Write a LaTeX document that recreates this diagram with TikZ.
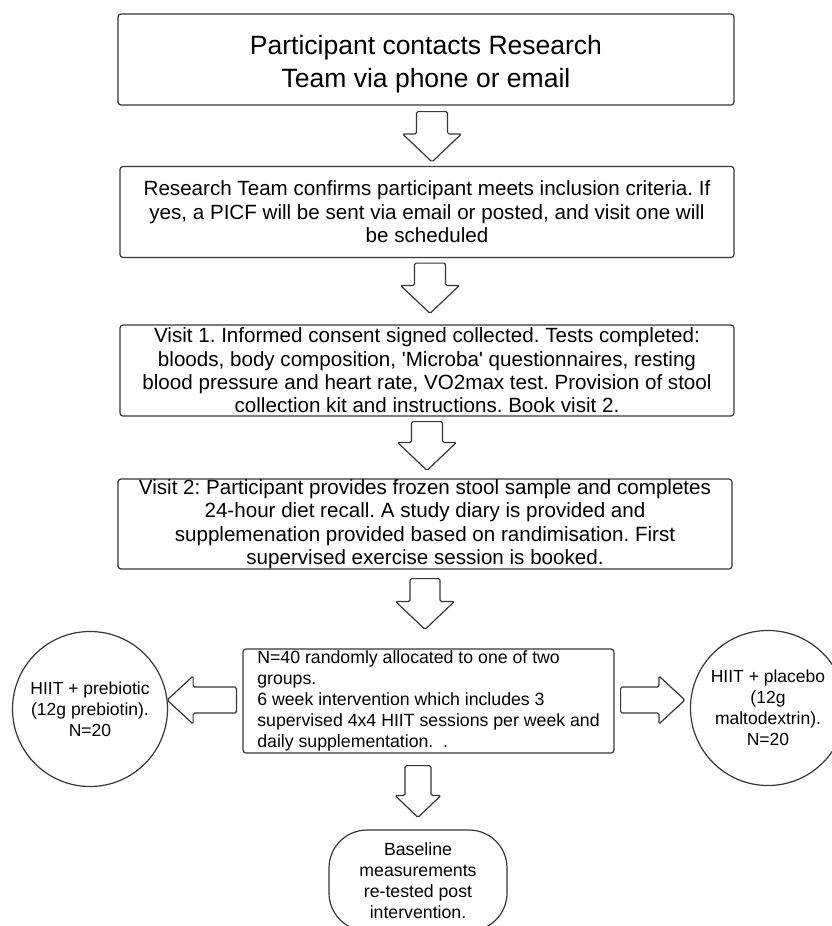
\documentclass[tikz,border=0pt]{standalone}
\usepackage{fontspec}
\setmainfont{Liberation Sans}
\usetikzlibrary{calc}
\definecolor{linegray}{RGB}{55,55,55}
\tikzstyle{stepbox}=[draw=linegray, line width=1.2pt, rounded corners=3pt, minimum width=614pt, minimum height=91pt, inner sep=0pt, align=center, font=\fontsize{20.6}{23.4}\selectfont]
\tikzstyle{groupcirc}=[circle, draw=linegray, line width=1.2pt, minimum size=155pt, inner sep=0pt, align=center, font=\fontsize{17.5}{21}\selectfont]
\tikzstyle{endbox}=[draw=linegray, line width=1.2pt, rounded corners=38pt, minimum width=178pt, minimum height=101pt, inner sep=0pt, align=center, font=\fontsize{17.7}{21}\selectfont]
\tikzstyle{blockarr}=[draw=linegray, line width=1.2pt, rounded corners=1.5pt, fill=white]
% down block arrow: #1 tail point, #2 tip point, #3 half stem, #4 half head, #5 head length
\newcommand{\downblock}[5]{%
  \draw[blockarr] let \p1=#1, \p2=#2 in
    (\x2-#3,\y1) -- (\x2-#3,\y2+#5) -- (\x2-#4,\y2+#5) -- (\x2,\y2)
    -- (\x2+#4,\y2+#5) -- (\x2+#3,\y2+#5) -- (\x2+#3,\y1) -- cycle;}
% side block arrow, same arguments
\newcommand{\sideblock}[5]{%
  \draw[blockarr] let \p1=#1, \p2=#2, \n1={sign(\x1-\x2)} in
    (\x1,\y2-#3) -- (\x2+\n1*#5,\y2-#3) -- (\x2+\n1*#5,\y2-#4) -- (\x2,\y2)
    -- (\x2+\n1*#5,\y2+#4) -- (\x2+\n1*#5,\y2+#3) -- (\x1,\y2+#3) -- cycle;}
\begin{document}
\frenchspacing
\begin{tikzpicture}[x=1pt, y=-1pt]
    \useasboundingbox (0,0) rectangle (832,926);
    \node[stepbox, minimum width=616pt, font=\fontsize{26.5}{33}\selectfont] (contact) at (426,59.5)
        {\raisebox{0pt}[29pt][0pt]{Participant contacts Research}\\Team via phone or email};
    \node[stepbox] (screen) at (427,212)
        {Research Team confirms participant meets inclusion criteria. If\\yes, a PICF will be sent via email or posted, and visit one will\\be scheduled};
    \node[stepbox] (visit1) at (427,370.5)
        {Visit 1. Informed consent signed collected. Tests completed:\\bloods, body composition, \textquotesingle Microba\textquotesingle\ questionnaires, resting\\blood pressure and heart rate, VO2max test. Provision of stool\\collection kit and instructions. Book visit 2.};
    \node[stepbox, minimum height=90pt] (visit2) at (425,524)
        {Visit 2: Participant provides frozen stool sample and completes\\24-hour diet recall. A study diary is provided and\\supplemenation provided based on randimisation. First\\supervised exercise session is booked.};
    \node[stepbox, minimum width=371pt, minimum height=104pt, align=left, font=\fontsize{17.7}{20.8}\selectfont] (alloc) at (428.5,701)
        {N=40 randomly allocated to one of two\\groups.\\6 week intervention which includes 3\\supervised 4x4 HIIT sessions per week and\\daily supplementation.\ \ .};
    \node[groupcirc] (prebio) at (90,709) {HIIT + prebiotic\\(12g prebiotin).\\N=20};
    \node[groupcirc] (placebo) at (768,708) {HIIT + placebo\\(12g\\maltodextrin).\\N=20};
    \node[endbox] (retest) at (418,880.5) {Baseline\\measurements\\re-tested post\\intervention.};
    \downblock{($(contact.south)+(5,6)$)}{($(screen.north)+(5,-4)$)}{15.5}{29.5}{28}
    \downblock{($(screen.south)+(3,5)$)}{($(visit1.north)+(3,-11)$)}{15.5}{29.5}{28}
    \downblock{($(visit1.south)+(2,5)$)}{($(visit2.north)+(2,-8)$)}{15.5}{29.5}{28}
    \downblock{($(visit2.south)+(0,9)$)}{($(alloc.north)+(-3.5,-19)$)}{15}{29.5}{28}
    \downblock{($(alloc.south)+(0,12)$)}{($(retest.north)+(0,-12)$)}{13}{23}{22}
    \sideblock{($(alloc.west)+(-6,0)$)}{($(prebio.east |- alloc.west)+(-1,-1)$)}{13}{24}{26}
    \sideblock{($(alloc.east)+(6,0)$)}{($(placebo.west |- alloc.east)+(-5,-1)$)}{13}{24}{26}
\end{tikzpicture}
\end{document}
